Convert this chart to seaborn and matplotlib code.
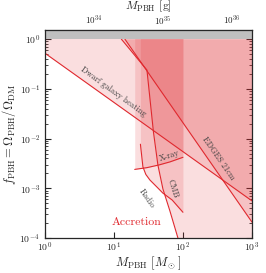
import numpy as np
import matplotlib
matplotlib.use("Agg")
import matplotlib.pyplot as plt
from matplotlib.ticker import NullLocator, LogLocator
import seaborn as sns

# values (M in solar masses, f = f_PBH)
dwarf_M = [1, 1000]
dwarf_f = [0.52, 5.6e-4]

edges_M = [14.4, 1000]
edges_f = [1.0, 2.1e-4]

radio_M = [12.8, 30.1, 37.4, 43.4, 51.3, 64.8, 84.7, 90]
radio_f = [1.0, 0.238, 0.0135, 2.93e-3, 9.7e-4, 3.5e-4, 1.0e-4, 7.5e-5]

xray_M = [20, 30, 45, 65, 100]
xray_f = [2.4e-3, 2.6e-3, 2.95e-3, 3.4e-3, 4.2e-3]

cmb_M = [24.2, 26.3, 29, 33.2, 42, 51.3, 70, 100]
cmb_f = [7.7e-3, 2.7e-3, 1.9e-3, 1.47e-3, 1.06e-3, 8.0e-4, 5.8e-4, 3.3e-4]

# label positions (M, f, rotation)
labels = {
    "Dwarf galaxy heating": (9.7, 0.086, -36),
    "X-ray": (64, 4.6e-3, 18),
    "CMB": (70, 9.7e-4, -72),
    "Radio": (29.5, 6.1e-4, -55),
    "EDGES 21cm": (330, 4.0e-3, -55),
}

Msun_g = 1.989e33
f_top = 1.52
red = "#e0282e"

sns.set_style("ticks")
plt.rcParams["font.family"] = "serif"
plt.rcParams["font.serif"] = ["cmr10", "DejaVu Serif"]
plt.rcParams["mathtext.fontset"] = "cm"
plt.rcParams["axes.formatter.use_mathtext"] = True
plt.rcParams["axes.unicode_minus"] = False

fig = plt.figure(figsize=(2.66, 2.73), dpi=100)
ax = fig.add_axes([0.169, 0.128, 0.778, 0.762])
ax.set_xscale("log")
ax.set_yscale("log")

# filled regions
ax.fill_between(dwarf_M, dwarf_f, f_top, color=red, alpha=0.15, lw=0)
ax.fill_between(edges_M, edges_f, f_top, color=red, alpha=0.15, lw=0)
ax.fill_betweenx(radio_f, radio_M, 1000, color=red, alpha=0.15, lw=0)
ax.fill_between(xray_M, xray_f, f_top, color=red, alpha=0.15, lw=0)
ax.fill_between(cmb_M, cmb_f, f_top, color=red, alpha=0.15, lw=0)

# boundary lines
for M, f in [(dwarf_M, dwarf_f), (edges_M, edges_f), (radio_M, radio_f),
             (xray_M, xray_f), (cmb_M, cmb_f)]:
    sns.lineplot(x=M, y=f, ax=ax, color=red, lw=0.8, sort=False)

ax.axhspan(1, f_top, color="#bfbfbf", zorder=4, lw=0)

for txt, (m, f, rot) in labels.items():
    ax.text(m, f, txt, rotation=rot, ha="center", va="center",
            fontsize=6, color="0.25", rotation_mode="anchor")
ax.text(21.5, 2.1e-4, "Accretion", color=red, fontsize=8.5,
        ha="center", va="center")

ax.set_xlim(1, 1000)
ax.set_ylim(1e-4, f_top)
ax.xaxis.set_minor_locator(NullLocator())
ax.yaxis.set_major_locator(LogLocator(base=10, numticks=10))
ax.yaxis.set_minor_locator(LogLocator(base=10, subs=np.arange(2, 10), numticks=20))
ax.tick_params(which="both", direction="in", right=True, top=False, labelsize=7)
ax.tick_params(axis="x", pad=2)
ax.tick_params(which="major", length=4)
ax.tick_params(which="minor", length=2)
for s in ax.spines.values():
    s.set_linewidth(0.9)
    s.set_zorder(6)

ax.set_xlabel(r"$M_\mathrm{PBH}$ [$M_\odot$]", fontsize=9, labelpad=0)
ax.set_ylabel(r"$f_\mathrm{PBH} = \Omega_\mathrm{PBH}/\Omega_\mathrm{DM}$", fontsize=9, labelpad=1)

secax = ax.secondary_xaxis("top", functions=(lambda m: m * Msun_g, lambda g: g / Msun_g))
secax.set_xticks([1e34, 1e35, 1e36])
secax.xaxis.set_minor_locator(NullLocator())
secax.tick_params(direction="in", length=4, labelsize=6.5, pad=2)
secax.set_xlabel(r"$M_\mathrm{PBH}$ [g]", fontsize=8.5, labelpad=3)

fig.savefig("out.png", dpi=100)
